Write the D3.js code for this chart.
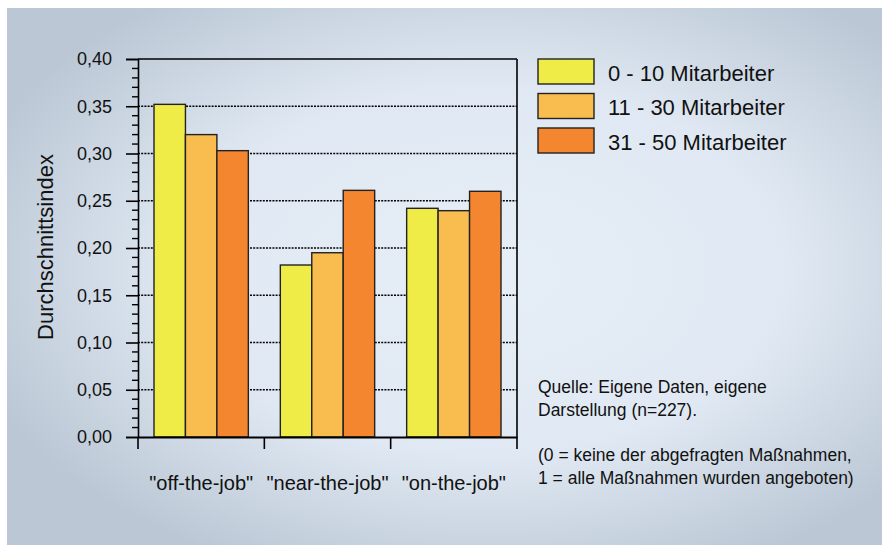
<!DOCTYPE html>
<html><head><meta charset="utf-8">
<script src="https://cdn.jsdelivr.net/npm/d3@7"></script>
<style>html,body{margin:0;padding:0;background:#fff;}svg{display:block;font-family:"Liberation Sans",Arial,sans-serif;}</style>
</head><body>
<script>
const categories = ['"off-the-job"', '"near-the-job"', '"on-the-job"'];
const seriesNames = ["0 - 10 Mitarbeiter", "11 - 30 Mitarbeiter", "31 - 50 Mitarbeiter"];
const series0_10 = [0.352, 0.182, 0.242];
const series11_30 = [0.320, 0.195, 0.2395];
const series31_50 = [0.303, 0.261, 0.260];
const colors = ["#EFEC48", "#F8BD4E", "#F4862F"];
const yTicks = [0, 0.05, 0.10, 0.15, 0.20, 0.25, 0.30, 0.35, 0.40];
const notes = ["Quelle: Eigene Daten, eigene", "Darstellung (n=227).", "", "(0 = keine der abgefragten Maßnahmen,", "1 = alle Maßnahmen wurden angeboten)"];

(function () {
const W = 882, H = 545;
const svg = d3.select("body").append("svg").attr("width", W).attr("height", H);
const defs = svg.append("defs");
const rg = defs.append("radialGradient").attr("id", "bg").attr("cx", "0.55").attr("cy", "0.48").attr("r", "0.62")
  .attr("fx", "0.55").attr("fy", "0.5");
rg.append("stop").attr("offset", "0").attr("stop-color", "#E6EEF7");
rg.append("stop").attr("offset", "0.55").attr("stop-color", "#E0E9F3");
rg.append("stop").attr("offset", "1").attr("stop-color", "#BBC7D5");
svg.append("rect").attr("width", W).attr("height", H).attr("fill", "#fff");
svg.append("rect").attr("x", 7).attr("y", 8).attr("width", W - 7).attr("height", H - 8).attr("fill", "url(#bg)");

const pl = 138, pr = 517, pt = 59, pb = 437;
const x0 = d3.scaleBand().domain(categories).range([pl, pr]).paddingInner(0).paddingOuter(0);
const x1 = d3.scaleBand().domain(d3.range(3)).range([16, x0.bandwidth() - 16]);
const y = d3.scaleLinear().domain([0, 0.40]).range([pb, pt]);

// gridlines
svg.append("g").selectAll("line").data(yTicks.filter(d => d > 0 && d < 0.40)).join("line")
  .attr("x1", pl).attr("x2", pr).attr("y1", d => y(d)).attr("y2", d => y(d))
  .attr("stroke", "#000").attr("stroke-width", 1.6).attr("stroke-dasharray", "2,1.2");

const data = [series0_10, series11_30, series31_50];
const g = svg.append("g");
categories.forEach((c, ci) => {
  data.forEach((s, si) => {
    g.append("rect")
      .attr("x", x0(c) + x1(si)).attr("y", y(s[ci]))
      .attr("width", x1.bandwidth()).attr("height", y(0) - y(s[ci]))
      .attr("fill", colors[si]).attr("stroke", "#222").attr("stroke-width", 1.4);
  });
});

// frame top & right
svg.append("line").attr("x1", pl).attr("x2", pr).attr("y1", pt).attr("y2", pt).attr("stroke", "#000").attr("stroke-width", 1.6);
svg.append("line").attr("x1", pr).attr("x2", pr).attr("y1", pt).attr("y2", pb).attr("stroke", "#000").attr("stroke-width", 1.6);

// y axis
const yAxis = d3.axisLeft(y).tickValues(yTicks).tickSize(12).tickPadding(14)
  .tickFormat(d => d3.format(".2f")(d).replace(".", ","));
const ya = svg.append("g").attr("transform", `translate(${pl},0)`).call(yAxis);
ya.select(".domain").attr("stroke", "#000").attr("stroke-width", 1.6);
ya.selectAll(".tick line").attr("stroke", "#000").attr("stroke-width", 1.6);
ya.selectAll("text").attr("font-size", 18).attr("fill", "#111").attr("font-family", '"Liberation Sans",Arial,sans-serif');
const minor = d3.range(0, 41).map(d => d / 100).filter((d, i) => i % 5 !== 0);
svg.append("g").selectAll("line").data(minor).join("line")
  .attr("x1", pl - 6).attr("x2", pl).attr("y1", d => y(d)).attr("y2", d => y(d))
  .attr("stroke", "#000").attr("stroke-width", 1.4);

// x axis
const xAxis = d3.axisBottom(x0).tickSize(0).tickFormat("");
const xa = svg.append("g").attr("transform", `translate(0,${pb})`).call(xAxis);
xa.select(".domain").attr("stroke", "#000").attr("stroke-width", 2);
const bounds = [pl].concat(categories.map(c => x0(c) + x0.bandwidth()));
svg.append("g").selectAll("line").data(bounds).join("line")
  .attr("x1", d => d).attr("x2", d => d).attr("y1", pb).attr("y2", pb + 12)
  .attr("stroke", "#000").attr("stroke-width", 1.6);
svg.append("g").selectAll("text").data(categories).join("text")
  .attr("x", d => x0(d) + x0.bandwidth() / 2).attr("y", 490)
  .attr("text-anchor", "middle").attr("font-size", 20).attr("fill", "#111").text(d => d);

// y label
svg.append("text").attr("transform", "translate(53,247) rotate(-90)")
  .attr("text-anchor", "middle").attr("font-size", 22).attr("fill", "#111").text("Durchschnittsindex");

// legend
const lg = svg.append("g");
seriesNames.forEach((n, i) => {
  lg.append("rect").attr("x", 538).attr("y", 59 + i * 34.5).attr("width", 56).attr("height", 25)
    .attr("fill", colors[i]).attr("stroke", "#222").attr("stroke-width", 1.4);
  lg.append("text").attr("x", 608).attr("y", 80.5 + i * 34.5).attr("font-size", 22).attr("fill", "#111").text(n);
});

// notes
svg.append("g").selectAll("text").data(notes).join("text")
  .attr("x", 538).attr("y", (d, i) => 393 + i * 22.8)
  .attr("font-size", 17.5).attr("fill", "#111").text(d => d);
})();
</script>
</body></html>
